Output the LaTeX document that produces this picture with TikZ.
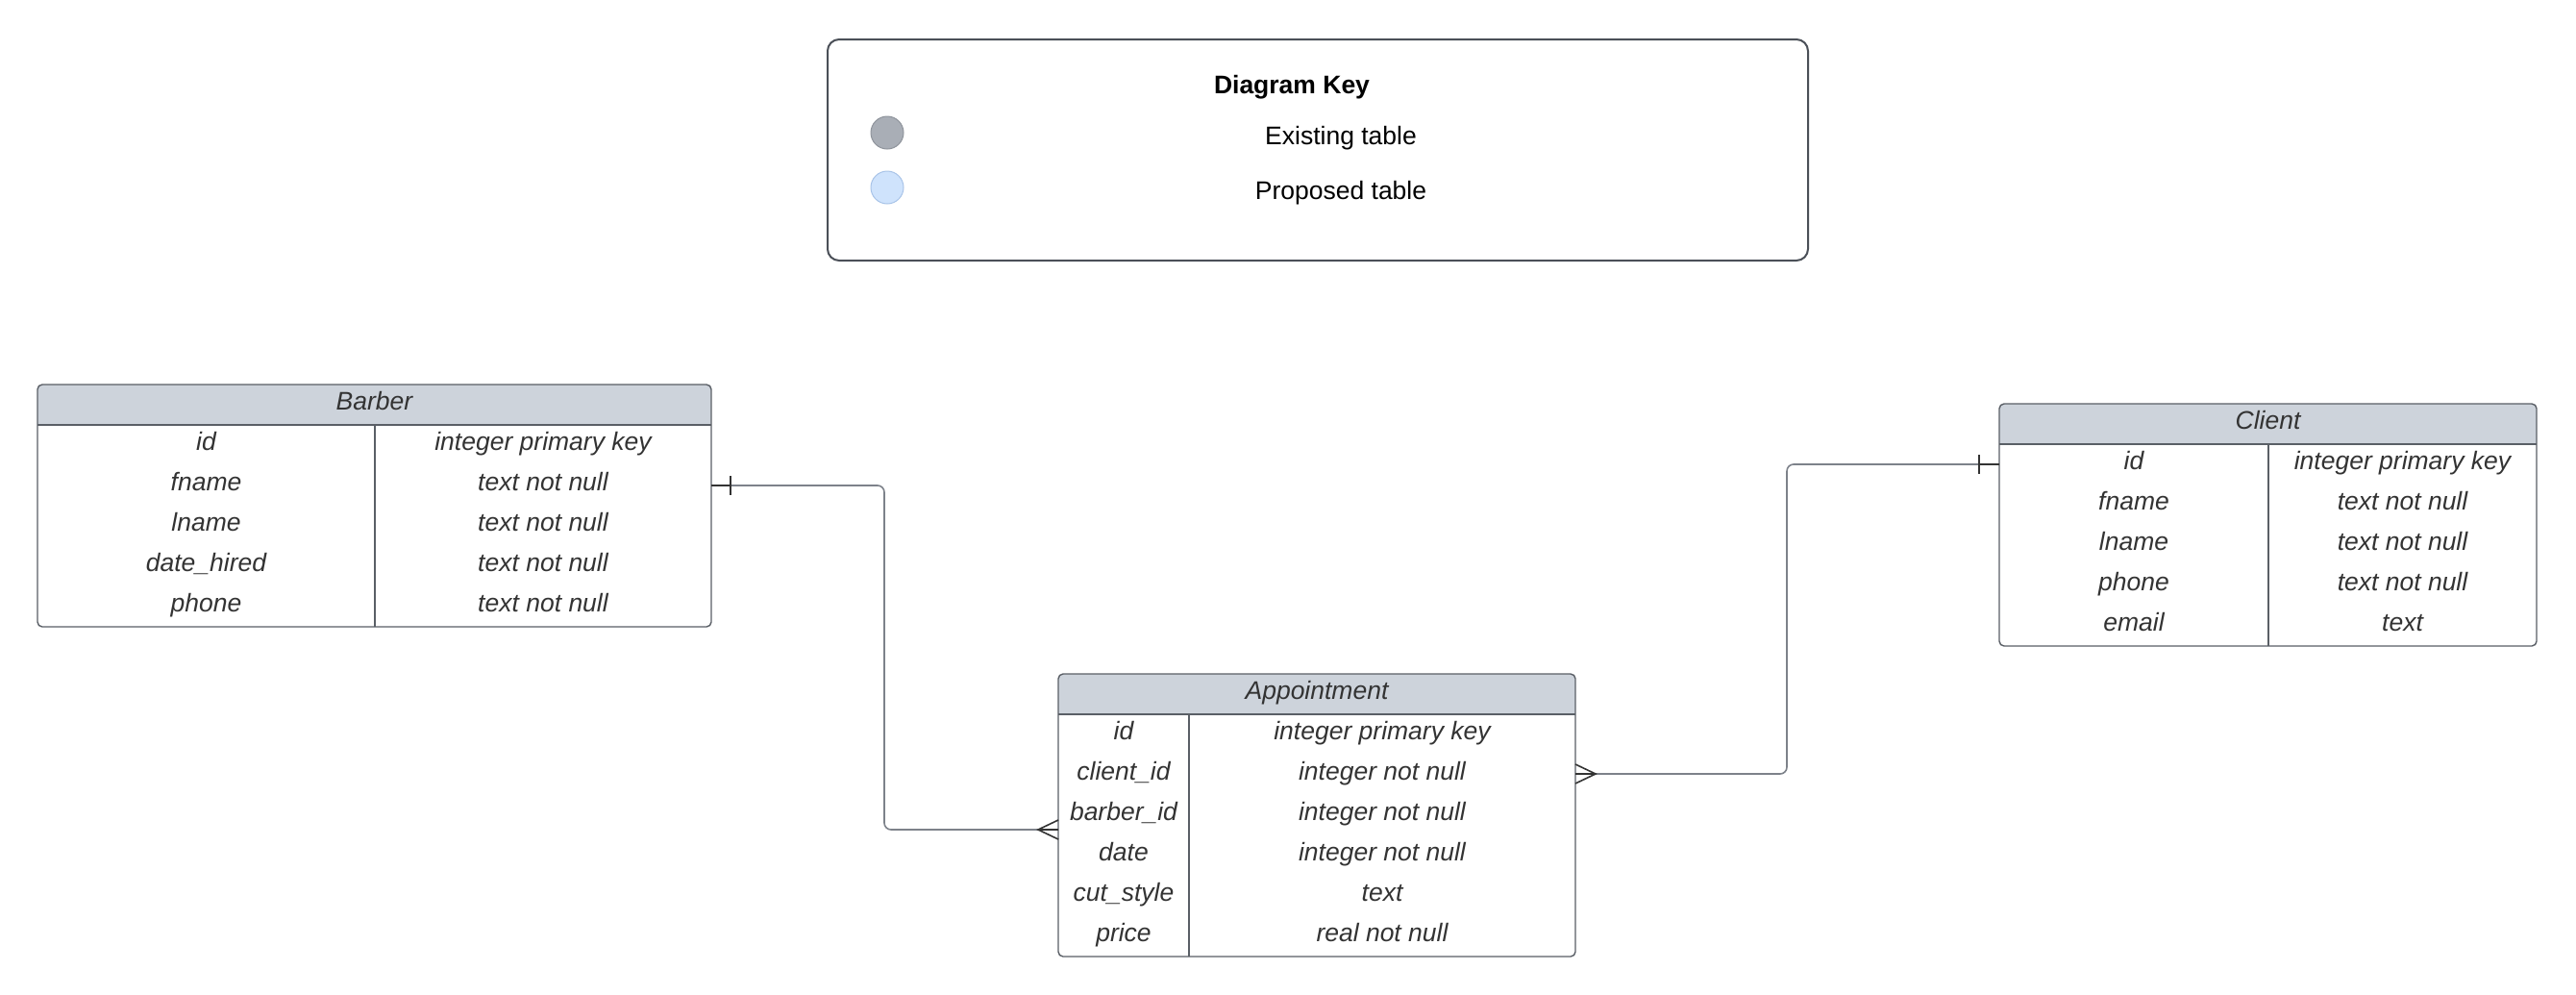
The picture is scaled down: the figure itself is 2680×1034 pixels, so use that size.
\documentclass[tikz,border=0pt]{standalone}
\usepackage{fontspec}
\setmainfont{Liberation Sans}
\usetikzlibrary{calc}
\definecolor{hdrfill}{HTML}{CDD3DB}
\definecolor{tblborder}{HTML}{5A5F66}
\definecolor{celltext}{HTML}{333333}
\definecolor{connline}{HTML}{7D828A}
\definecolor{markline}{HTML}{333333}
\definecolor{keyborder}{HTML}{4B5058}
\definecolor{existfill}{HTML}{A9AEB6}
\definecolor{existdraw}{HTML}{8F949C}
\definecolor{propfill}{HTML}{CFE3FC}
\definecolor{propdraw}{HTML}{A9C4E8}
\tikzset{
  tblnode/.style={inner sep=0pt, outer sep=0pt},
  tblline/.style={draw=tblborder, line width=1.4pt},
  cell/.style={inner sep=0pt, anchor=base, text=celltext, font=\fontsize{26.5}{30}\selectfont\itshape},
  conn/.style={draw=connline, line width=1.6pt, rounded corners=7pt},
  erdmark/.style={draw=markline, line width=1.6pt},
  keybox/.style={draw=keyborder, line width=2pt, rounded corners=12pt, inner sep=0pt, fill=white},
  keytext/.style={inner sep=0pt, anchor=base, text=black, font=\fontsize{26.5}{30}\selectfont},
  keydot/.style={circle, inner sep=0pt, minimum size=34pt, line width=1pt}
}
% #1 name, #2 left, #3 top, #4 right, #5 divider x, #6 number of rows, #7 title, #8 rows
\newcommand\ertable[8]{%
  \pgfmathsetmacro\erbot{#3+42+42*#6}%
  \node[tblnode, anchor=north west, minimum width={#4-#2}, minimum height={\erbot-#3}] (#1) at (#2,#3) {};
  \begin{scope}
    \clip[rounded corners=5pt] (#1.north west) rectangle (#1.south east);
    \fill[white] (#1.north west) rectangle (#1.south east);
    \fill[hdrfill] (#1.north west) rectangle ([yshift=-42pt]#1.north east);
  \end{scope}
  \draw[tblline, rounded corners=5pt] (#1.north west) rectangle (#1.south east);
  \draw[tblline] ([yshift=-42pt]#1.north west) -- ([yshift=-42pt]#1.north east);
  \draw[tblline] (#5,#3+42) -- (#5,\erbot);
  \node[cell] (#1-title) at ({(#2+#4)/2},#3+26) {#7};
  \foreach \cola/\colb [count=\i] in {#8} {
    \node[cell] (#1-a\i) at ({(#2+#5)/2},{#3+42+42*\i-16}) {\cola};
    \node[cell] (#1-b\i) at ({(#5+#4)/2},{#3+42+42*\i-16}) {\colb};
  }%
}
\begin{document}
\begin{tikzpicture}[x=1pt,y=-1pt]
\useasboundingbox[fill=white] (0,0) rectangle (2680,1034);

% Diagram key
\node[keybox, anchor=north west, minimum width=1020pt, minimum height=230pt] (key) at (860,40) {};
\node[keytext, font=\fontsize{26.5}{30}\selectfont\bfseries] (keytitle) at (1344,97) {Diagram Key};
\node[keydot, fill=existfill, draw=existdraw] (dotexist) at (923,138) {};
\node[keydot, fill=propfill, draw=propdraw] (dotprop) at (923,195) {};
\node[keytext] (lblexist) at (1395,150) {Existing table};
\node[keytext] (lblprop) at (1395,207) {Proposed table};

% Tables
\ertable{barber}{39}{400}{740}{390}{5}{Barber}{id/integer primary key, fname/text not null, lname/text not null, date\_hired/text not null, phone/text not null}
\ertable{client}{2080}{420}{2639}{2360}{5}{Client}{id/integer primary key, fname/text not null, lname/text not null, phone/text not null, email/text}
\ertable{appt}{1101}{701}{1639}{1237}{6}{Appointment}{id/integer primary key, client\_id/integer not null, barber\_id/integer not null, date/integer not null, cut\_style/text, price/real not null}

% Connector Barber -- Appointment
\coordinate (bstart) at (barber.east |- 0,505);
\coordinate (aend) at (appt.west |- 0,863);
\draw[conn] (bstart) -- ++(180,0) |- (aend);
\draw[erdmark] (bstart) -- ++(20,0);
\draw[erdmark] ($(bstart)+(20,-10)$) -- ($(bstart)+(20,10)$);
\draw[erdmark] ($(aend)+(0,-10)$) -- ($(aend)+(-21,0)$) -- ($(aend)+(0,10)$);
\draw[erdmark] (aend) -- ++(-21,0);

% Connector Appointment -- Client
\coordinate (cstart) at (appt.east |- 0,805);
\coordinate (cend) at (client.west |- 0,483);
\draw[conn] (cstart) -- ++(220,0) |- (cend);
\draw[erdmark] ($(cstart)+(0,-10)$) -- ($(cstart)+(21,0)$) -- ($(cstart)+(0,10)$);
\draw[erdmark] (cstart) -- ++(21,0);
\draw[erdmark] (cend) -- ++(-21,0);
\draw[erdmark] ($(cend)+(-21,-10)$) -- ($(cend)+(-21,10)$);
\end{tikzpicture}
\end{document}
